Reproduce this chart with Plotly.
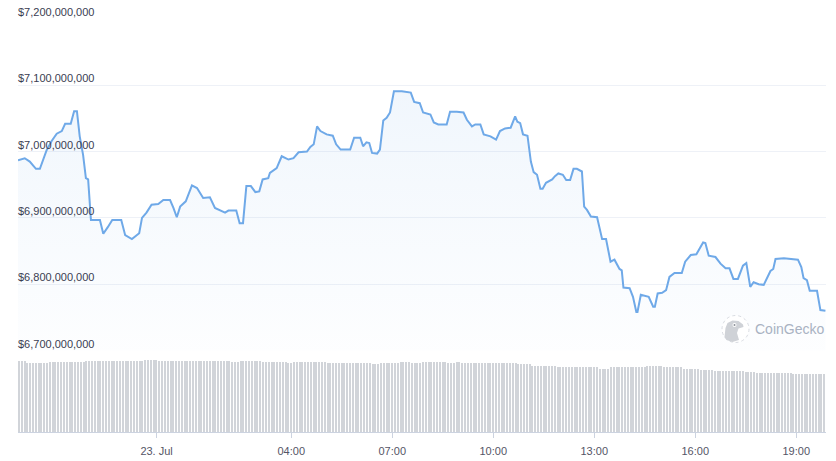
import plotly.graph_objects as go
from datetime import datetime, timedelta

# ---------------- data ----------------
line_time = [
    "2023-07-22 19:53", "2023-07-22 20:05", "2023-07-22 20:14", "2023-07-22 20:25", "2023-07-22 20:32",
    "2023-07-22 20:44", "2023-07-22 20:53", "2023-07-22 21:02", "2023-07-22 21:11", "2023-07-22 21:17",
    "2023-07-22 21:27", "2023-07-22 21:33", "2023-07-22 21:38", "2023-07-22 21:43", "2023-07-22 21:49",
    "2023-07-22 21:54", "2023-07-22 21:58", "2023-07-22 22:03", "2023-07-22 22:19", "2023-07-22 22:25",
    "2023-07-22 22:33", "2023-07-22 22:41", "2023-07-22 22:57", "2023-07-22 23:04", "2023-07-22 23:16",
    "2023-07-22 23:29", "2023-07-22 23:34", "2023-07-22 23:42", "2023-07-22 23:51",
    "2023-07-23 00:03", "2023-07-23 00:12", "2023-07-23 00:24", "2023-07-23 00:30", "2023-07-23 00:36",
    "2023-07-23 00:42", "2023-07-23 00:52", "2023-07-23 01:03", "2023-07-23 01:12", "2023-07-23 01:23",
    "2023-07-23 01:35", "2023-07-23 01:44", "2023-07-23 02:02", "2023-07-23 02:08", "2023-07-23 02:22",
    "2023-07-23 02:28", "2023-07-23 02:34", "2023-07-23 02:40", "2023-07-23 02:48", "2023-07-23 02:56",
    "2023-07-23 03:03", "2023-07-23 03:09", "2023-07-23 03:19", "2023-07-23 03:22", "2023-07-23 03:34",
    "2023-07-23 03:43", "2023-07-23 03:55", "2023-07-23 04:04", "2023-07-23 04:13", "2023-07-23 04:28",
    "2023-07-23 04:34", "2023-07-23 04:40", "2023-07-23 04:46", "2023-07-23 04:52", "2023-07-23 05:03",
    "2023-07-23 05:14", "2023-07-23 05:20", "2023-07-23 05:28", "2023-07-23 05:45", "2023-07-23 05:52",
    "2023-07-23 06:03", "2023-07-23 06:08", "2023-07-23 06:14", "2023-07-23 06:19", "2023-07-23 06:24",
    "2023-07-23 06:33", "2023-07-23 06:38", "2023-07-23 06:44", "2023-07-23 06:50", "2023-07-23 06:56",
    "2023-07-23 07:03", "2023-07-23 07:17", "2023-07-23 07:33", "2023-07-23 07:39", "2023-07-23 07:49",
    "2023-07-23 07:55", "2023-07-23 08:08", "2023-07-23 08:14", "2023-07-23 08:22", "2023-07-23 08:37",
    "2023-07-23 08:43", "2023-07-23 08:55", "2023-07-23 09:07", "2023-07-23 09:13", "2023-07-23 09:22",
    "2023-07-23 09:28", "2023-07-23 09:37", "2023-07-23 09:43", "2023-07-23 09:55", "2023-07-23 10:05",
    "2023-07-23 10:12", "2023-07-23 10:21", "2023-07-23 10:31", "2023-07-23 10:39", "2023-07-23 10:43",
    "2023-07-23 10:48", "2023-07-23 10:53", "2023-07-23 11:01", "2023-07-23 11:07", "2023-07-23 11:12",
    "2023-07-23 11:18", "2023-07-23 11:24", "2023-07-23 11:28", "2023-07-23 11:34", "2023-07-23 11:45",
    "2023-07-23 11:50", "2023-07-23 11:56", "2023-07-23 12:04", "2023-07-23 12:10", "2023-07-23 12:17",
    "2023-07-23 12:23", "2023-07-23 12:29", "2023-07-23 12:38", "2023-07-23 12:42", "2023-07-23 12:47",
    "2023-07-23 12:54", "2023-07-23 13:05", "2023-07-23 13:14", "2023-07-23 13:21", "2023-07-23 13:29",
    "2023-07-23 13:36", "2023-07-23 13:45", "2023-07-23 13:49", "2023-07-23 13:52", "2023-07-23 14:03",
    "2023-07-23 14:09", "2023-07-23 14:15", "2023-07-23 14:17", "2023-07-23 14:23", "2023-07-23 14:37",
    "2023-07-23 14:45", "2023-07-23 14:48", "2023-07-23 14:53", "2023-07-23 15:01", "2023-07-23 15:08",
    "2023-07-23 15:14", "2023-07-23 15:23", "2023-07-23 15:36", "2023-07-23 15:42", "2023-07-23 15:52",
    "2023-07-23 16:02", "2023-07-23 16:14", "2023-07-23 16:18", "2023-07-23 16:24", "2023-07-23 16:36",
    "2023-07-23 16:45", "2023-07-23 16:54", "2023-07-23 17:01", "2023-07-23 17:08", "2023-07-23 17:16",
    "2023-07-23 17:25", "2023-07-23 17:31", "2023-07-23 17:38", "2023-07-23 17:44", "2023-07-23 17:53",
    "2023-07-23 18:02", "2023-07-23 18:08", "2023-07-23 18:14", "2023-07-23 18:19", "2023-07-23 18:23",
    "2023-07-23 18:38", "2023-07-23 18:51", "2023-07-23 19:03", "2023-07-23 19:09", "2023-07-23 19:13",
    "2023-07-23 19:19", "2023-07-23 19:24", "2023-07-23 19:37", "2023-07-23 19:43", "2023-07-23 19:52",
]

# market cap in millions USD
market_cap_m = [
    6987, 6990, 6985, 6974, 6974, 7002, 7016, 7027, 7031, 7042,
    7042, 7061, 7061, 7023, 6995, 6960, 6958, 6897, 6897, 6876,
    6886, 6897, 6897, 6874, 6868, 6877, 6900, 6908, 6920,
    6921, 6927, 6927, 6915, 6901, 6917, 6925, 6949, 6945, 6930,
    6931, 6915, 6908, 6911, 6911, 6892, 6892, 6948, 6948, 6939,
    6940, 6958, 6960, 6968, 6975, 6993, 6988, 6990, 6999, 7000,
    7007, 7011, 7038, 7031, 7026, 7024, 7011, 7003, 7003, 7021,
    7021, 7008, 7014, 7013, 6998, 6997, 7003, 7047, 7051, 7059,
    7091, 7091, 7089, 7075, 7073, 7059, 7056, 7044, 7041, 7041,
    7060, 7060, 7059, 7048, 7038, 7041, 7041, 7026, 7023, 7018,
    7031, 7035, 7036, 7053, 7045, 7043, 7026, 7024, 6985, 6969,
    6965, 6944, 6944, 6953, 6958, 6963, 6967, 6965, 6957, 6957,
    6974, 6974, 6970, 6917, 6912, 6902, 6901, 6868, 6868, 6834,
    6837, 6823, 6821, 6795, 6794, 6781, 6758, 6758, 6784, 6781,
    6766, 6766, 6786, 6787, 6791, 6811, 6817, 6817, 6834, 6844,
    6845, 6863, 6862, 6843, 6841, 6831, 6824, 6824, 6808, 6808,
    6828, 6832, 6796, 6803, 6800, 6799, 6809, 6820, 6823, 6838,
    6839, 6838, 6837, 6826, 6809, 6806, 6790, 6790, 6761, 6760,
]

# volume (millions USD), as read level + number of consecutive 5-minute bars
volume_levels = [430, 418, 424, 430, 436, 430, 424, 430, 424, 418, 424, 418, 412, 418, 424, 418,
                 424, 418, 424, 418, 412, 400, 390, 382, 390, 398, 390, 382, 376, 370, 364, 358, 352]
volume_counts = [3, 8, 13, 21, 5, 26, 3, 8, 9, 2, 12, 16, 3, 7, 4, 4,
                 9, 3, 2, 20, 5, 9, 15, 4, 13, 6, 7, 6, 5, 11, 4, 13, 12]

range_start = "2023-07-22 19:53"
range_end = "2023-07-23 19:53"
tick_vals = ["2023-07-23 00:00", "2023-07-23 04:00", "2023-07-23 07:00", "2023-07-23 10:00",
             "2023-07-23 13:00", "2023-07-23 16:00", "2023-07-23 19:00"]
tick_text = ["23. Jul", "04:00", "07:00", "10:00", "13:00", "16:00", "19:00"]
y_ticks_m = [6700, 6800, 6900, 7000, 7100, 7200]
y_tick_text = ["$6,700,000,000", "$6,800,000,000", "$6,900,000,000",
               "$7,000,000,000", "$7,100,000,000", "$7,200,000,000"]

# ---------------- build ----------------
market_cap = [v * 1e6 for v in market_cap_m]
volume = []
for lvl, cnt in zip(volume_levels, volume_counts):
    volume += [lvl * 1e6] * cnt
t0 = datetime.strptime(range_start, "%Y-%m-%d %H:%M")
vol_time = [t0 + timedelta(minutes=5 * i) for i in range(len(volume))]

W, H = 836, 461
ML, MR, MT, MB = 18, 10, 19, 29
PW, PH = W - ML - MR, H - MT - MB

LINE = "#6fa9e8"
fig = go.Figure()
fig.add_trace(go.Bar(
    x=vol_time, y=volume, xaxis="x", yaxis="y2",
    marker=dict(color="#d1d4d9", line=dict(width=0)),
    width=5 * 60 * 1000 * 0.72, offset=0, hoverinfo="skip",
))
fig.add_trace(go.Scatter(
    x=line_time, y=market_cap, xaxis="x", yaxis="y",
    mode="lines", line=dict(color=LINE, width=2),
    fill="tozeroy",
    fillgradient=dict(type="vertical", start=6.70e9, stop=7.09e9,
                      colorscale=[[0, "rgba(111,169,232,0.015)"], [1, "rgba(111,169,232,0.10)"]]),
    hoverinfo="skip",
))

price_bottom = (MT + PH - 350.5) / PH
bar_top = (432 - 359) / PH

fig.update_layout(
    width=W, height=H,
    margin=dict(l=ML, r=MR, t=MT, b=MB, pad=0, autoexpand=False),
    paper_bgcolor="white", plot_bgcolor="white",
    showlegend=False, bargap=0,
    font=dict(family="Liberation Sans, Arial, sans-serif", size=11, color="#3a3d52"),
    xaxis=dict(
        type="date", range=[range_start, range_end], anchor="y2", automargin=False,
        showgrid=False, zeroline=False,
        showline=True, linecolor="#ccd3e0", linewidth=1,
        ticks="outside", ticklen=5, tickcolor="#ccd3e0", tickwidth=1,
        ticklabelstandoff=4,
        tickvals=tick_vals, ticktext=tick_text,
        tickfont=dict(size=11, color="#555566"),
    ),
    yaxis=dict(
        domain=[price_bottom, 1], range=[6.70e9, 7.20e9], automargin=False,
        tickvals=[v * 1e6 for v in y_ticks_m], ticktext=y_tick_text,
        ticklabelposition="inside top", ticklabeloverflow="allow",
        ticklabelstandoff=-3, ticklabelshift=1,
        ticks="", ticklen=0, showline=False, zeroline=False,
        showgrid=True, gridcolor="#eef1f7", gridwidth=1,
        tickfont=dict(size=11, color="#3a3d52"),
    ),
    yaxis2=dict(
        domain=[0, bar_top], range=[0, 440e6], automargin=False,
        showgrid=False, showticklabels=False, zeroline=False, ticks="",
    ),
)

# ---- CoinGecko watermark ----
def px(x):
    return (x - ML) / PW

def py(y):
    return (MT + PH - y) / PH

cx, cy, r = 735.5, 329.0, 13.5
fig.add_shape(type="circle", xref="paper", yref="paper",
              x0=px(cx - r), x1=px(cx + r), y0=py(cy + r), y1=py(cy - r),
              line=dict(color="#d9dce2", width=1, dash="dot"), fillcolor="white", layer="above")
head = [(-11, 8), (-10, -1), (-8, -6), (-3, -8.5), (3, -8), (7.5, -4.5), (8, -2),
        (3, -0.5), (1.5, 4), (3.5, 11), (-3, 13), (-9, 11)]
path = "M " + " L ".join(f"{px(cx + dx):.5f},{py(cy + dy):.5f}" for dx, dy in head) + " Z"
fig.add_shape(type="path", xref="paper", yref="paper", path=path,
              fillcolor="#cfd2d7", line=dict(width=0), layer="above")
fig.add_shape(type="circle", xref="paper", yref="paper",
              x0=px(cx - 3), x1=px(cx + 1), y0=py(cy - 2), y1=py(cy - 6),
              fillcolor="white", line=dict(width=0), layer="above")
fig.add_shape(type="circle", xref="paper", yref="paper",
              x0=px(cx - 2), x1=px(cx), y0=py(cy - 3), y1=py(cy - 5),
              fillcolor="#8a8e96", line=dict(width=0), layer="above")
fig.add_annotation(xref="paper", yref="paper", x=px(753), y=py(329), xanchor="left", yanchor="middle",
                   text="CoinGecko", showarrow=False,
                   font=dict(family="Liberation Sans, Arial, sans-serif", size=14, color="#a9b2c2"))

fig.write_html("out.html", config={"displayModeBar": False},
               post_script="document.body.style.margin='0';")
